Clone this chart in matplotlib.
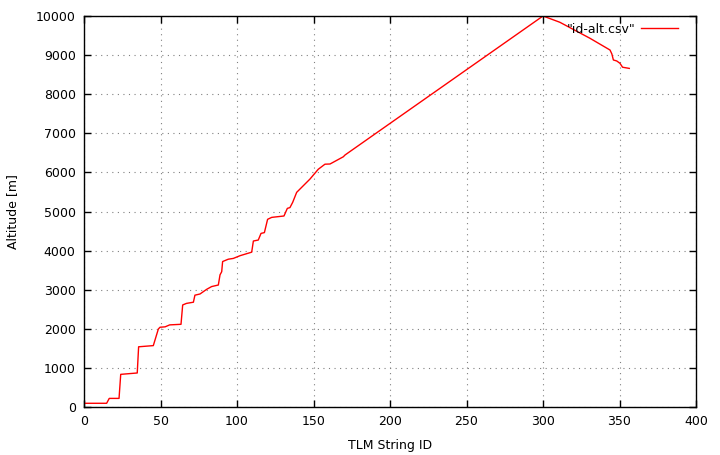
import matplotlib
matplotlib.use("Agg")
import matplotlib.pyplot as plt

# TLM string id vs altitude
tlm_id = [0, 14.8, 16.5, 22.9, 24.0, 34.8, 35.7, 45.3, 48.6, 49.7, 53.0, 56.0,
          63.4, 64.5, 67.0, 71.5, 72.5, 75.8, 80.2, 83.4, 87.8, 88.9, 90.0,
          90.6, 94.3, 97.6, 102.0, 109.6, 110.7, 113.9, 115.7, 117.9, 120.0,
          122.7, 130.7, 132.9, 134.6, 136.4, 139.0, 147.7, 153.1, 157.5,
          160.8, 169.5, 170.6, 300.0, 311.0, 330.7, 343.8, 345.0, 346.0,
          348.2, 350.3, 352.0, 356.4]
altitude = [95, 95, 220, 220, 835, 870, 1540, 1570, 1995, 2040, 2050, 2100,
            2115, 2610, 2650, 2680, 2860, 2890, 3010, 3080, 3120, 3380, 3460,
            3720, 3780, 3800, 3870, 3960, 4245, 4270, 4440, 4460, 4800,
            4850, 4885, 5080, 5100, 5235, 5490, 5830, 6080, 6210,
            6215, 6400, 6445, 10000, 9840, 9430, 9130, 9030, 8875,
            8850, 8790, 8690, 8660]

plt.rcParams['font.family'] = ['DejaVu Sans']
plt.rcParams['font.size'] = 9

fig = plt.figure(figsize=(7.2, 4.55), dpi=100)
ax = fig.add_axes([84 / 720, 48 / 455, 612 / 720, 391 / 455])

ax.plot(tlm_id, altitude, color='red', linewidth=1.0, label='"id-alt.csv"')

ax.set_xlim(0, 400)
ax.set_ylim(0, 10000)
ax.set_xticks(range(0, 401, 50))
ax.set_yticks(range(0, 10001, 1000))
ax.tick_params(direction='in', top=True, right=True, length=5, width=1, pad=6)
ax.grid(True, color='gray', linestyle=(0, (1, 4)), linewidth=0.8)
for s in ax.spines.values():
    s.set_linewidth(1.0)

ax.set_xlabel("TLM String ID", labelpad=8)
ax.set_ylabel("Altitude [m]", labelpad=12)

ax.legend(loc='upper right', bbox_to_anchor=(0.987, 1.008), frameon=False,
          markerfirst=False, handlelength=3.0, handletextpad=0.4,
          borderaxespad=0.4, fontsize=9)

fig.savefig("out.png", dpi=100)
